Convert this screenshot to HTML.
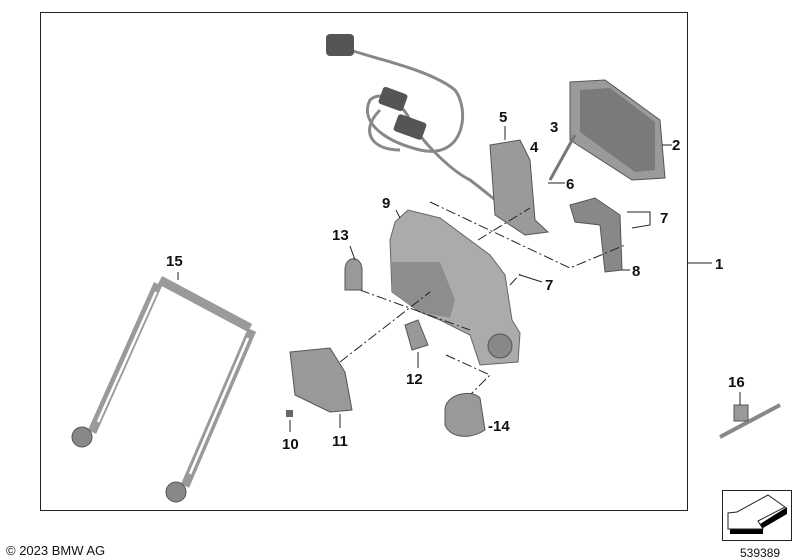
<!DOCTYPE html>
<html><head><style>
body{margin:0;background:#fff;}
svg{display:block;font-family:"Liberation Sans",Arial,sans-serif;}
.l{font-size:15px;font-weight:bold;fill:#111;}
</style></head><body>
<svg width="800" height="560" viewBox="0 0 800 560">
<rect x="40.5" y="12.5" width="647" height="498" fill="none" stroke="#222" stroke-width="1"/>
<line x1="688" y1="263" x2="712" y2="263" stroke="#222"/>
<text class="l" x="715" y="269">1</text>

<!-- cable -->
<g fill="none" stroke="#888" stroke-width="3">
<path d="M350 50 C380 60 430 70 455 90 C470 110 465 160 420 150 C380 140 360 120 370 100 C380 90 400 100 410 120 C420 140 450 170 470 180 C490 195 500 205 510 210"/>
<path d="M380 110 C360 130 370 150 400 150"/>
</g>
<rect x="326" y="34" width="28" height="22" rx="4" fill="#555"/>
<rect x="380" y="90" width="26" height="18" rx="3" fill="#555" transform="rotate(20 393 99)"/>
<rect x="395" y="118" width="30" height="18" rx="3" fill="#555" transform="rotate(20 410 127)"/>

<!-- part 2 plate -->
<polygon points="570,82 605,80 660,120 665,178 632,180 570,140" fill="#9a9a9a" stroke="#555"/>
<polygon points="580,90 610,88 655,122 655,170 635,172 580,132" fill="#7a7a7a"/>
<line x1="662" y1="145" x2="672" y2="145" stroke="#222"/>
<text class="l" x="672" y="150">2</text>
<line x1="550" y1="180" x2="575" y2="135" stroke="#777" stroke-width="3"/>
<text class="l" x="550" y="132">3</text>
<text class="l" x="530" y="152">4</text>
<!-- 5 bracket -->
<polygon points="490,145 520,140 530,160 535,220 548,232 525,235 495,215" fill="#9a9a9a" stroke="#555"/>
<text class="l" x="499" y="122">5</text>
<line x1="505" y1="126" x2="505" y2="140" stroke="#222"/>
<text class="l" x="566" y="189">6</text>
<line x1="548" y1="183" x2="565" y2="183" stroke="#222"/>

<!-- 8 -->
<polygon points="570,205 595,198 620,215 622,270 605,272 600,225 575,222" fill="#888" stroke="#555"/>
<text class="l" x="632" y="276">8</text>
<line x1="622" y1="270" x2="630" y2="270" stroke="#222"/>
<text class="l" x="660" y="223">7</text>
<path d="M627 212 L650 212 L650 225 L632 228" fill="none" stroke="#222"/>
<text class="l" x="545" y="290">7</text>
<line x1="520" y1="275" x2="542" y2="282" stroke="#222"/>

<!-- 9 main housing -->
<polygon points="395,222 408,210 440,218 490,255 505,275 512,320 520,333 518,362 480,365 470,335 440,320 420,312 392,292 390,240" fill="#ababab" stroke="#666"/>
<polygon points="392,262 440,262 455,300 450,318 420,312 392,292" fill="#8d8d8d"/>
<circle cx="500" cy="346" r="12" fill="#888" stroke="#555"/>
<text class="l" x="382" y="208">9</text>
<line x1="396" y1="210" x2="400" y2="218" stroke="#222"/>

<!-- dash-dot lines -->
<g stroke="#222" stroke-dasharray="10,3,2,3" fill="none">
<path d="M430 202 L570 268 L625 245"/>
<path d="M360 290 L470 330"/>
<path d="M340 362 L430 292"/>
<path d="M446 355 L490 375 L470 395"/>
<path d="M478 240 L530 208"/>
<path d="M510 285 L522 272"/>
</g>

<!-- 13 -->
<path d="M345 270 C345 255 362 255 362 270 L362 290 L345 290 Z" fill="#999" stroke="#555"/>
<text class="l" x="332" y="240">13</text>
<line x1="350" y1="246" x2="355" y2="260" stroke="#222"/>

<!-- 15 frame -->
<g fill="none" stroke="#9a9a9a" stroke-linejoin="round">
<path d="M160 280 L250 328" stroke-width="9"/>
<path d="M158 284 L92 432" stroke-width="9"/>
<path d="M252 330 L185 486" stroke-width="9"/>
</g>
<g fill="none" stroke="#fff" stroke-width="2.5">
<path d="M156 292 L98 422"/>
<path d="M248 338 L190 474"/>
</g>
<ellipse cx="82" cy="437" rx="10" ry="10" fill="#888" stroke="#555"/>
<ellipse cx="176" cy="492" rx="10" ry="10" fill="#888" stroke="#555"/>
<text class="l" x="166" y="266">15</text>
<line x1="178" y1="272" x2="178" y2="280" stroke="#222"/>

<!-- 12 -->
<path d="M405 325 L418 320 L428 345 L412 350 Z" fill="#999" stroke="#555"/>
<text class="l" x="406" y="384">12</text>
<line x1="418" y1="368" x2="418" y2="352" stroke="#222"/>

<!-- 11 -->
<polygon points="290,352 330,348 345,372 352,410 330,412 295,395" fill="#999" stroke="#555"/>
<text class="l" x="332" y="446">11</text>
<line x1="340" y1="428" x2="340" y2="414" stroke="#222"/>
<rect x="286" y="410" width="7" height="7" fill="#666"/>
<text class="l" x="282" y="449">10</text>
<line x1="290" y1="432" x2="290" y2="420" stroke="#222"/>

<!-- 14 -->
<path d="M445 410 C445 395 470 388 480 398 L485 430 C470 440 450 438 445 425 Z" fill="#999" stroke="#555"/>
<text class="l" x="488" y="431">-14</text>

<!-- 16 tie -->
<line x1="720" y1="437" x2="780" y2="405" stroke="#888" stroke-width="4"/>
<rect x="734" y="405" width="14" height="16" fill="#999" stroke="#555"/>
<text class="l" x="728" y="387">16</text>
<line x1="740" y1="392" x2="740" y2="405" stroke="#222"/>

<!-- icon box -->
<rect x="722.5" y="490.5" width="69" height="50" fill="#fff" stroke="#222"/>
<polygon points="730,525 730,534 763,534 763,528 787,514 787,507 760,524" fill="#000"/>
<polygon points="728,513 728,529 763,529 758,521 785,507 768,495 737,512" fill="#fff" stroke="#222"/>
<text x="740" y="557" font-size="12" fill="#111">539389</text>
<text x="6" y="555" font-size="13" fill="#111">© 2023 BMW AG</text>
</svg>
</body></html>
